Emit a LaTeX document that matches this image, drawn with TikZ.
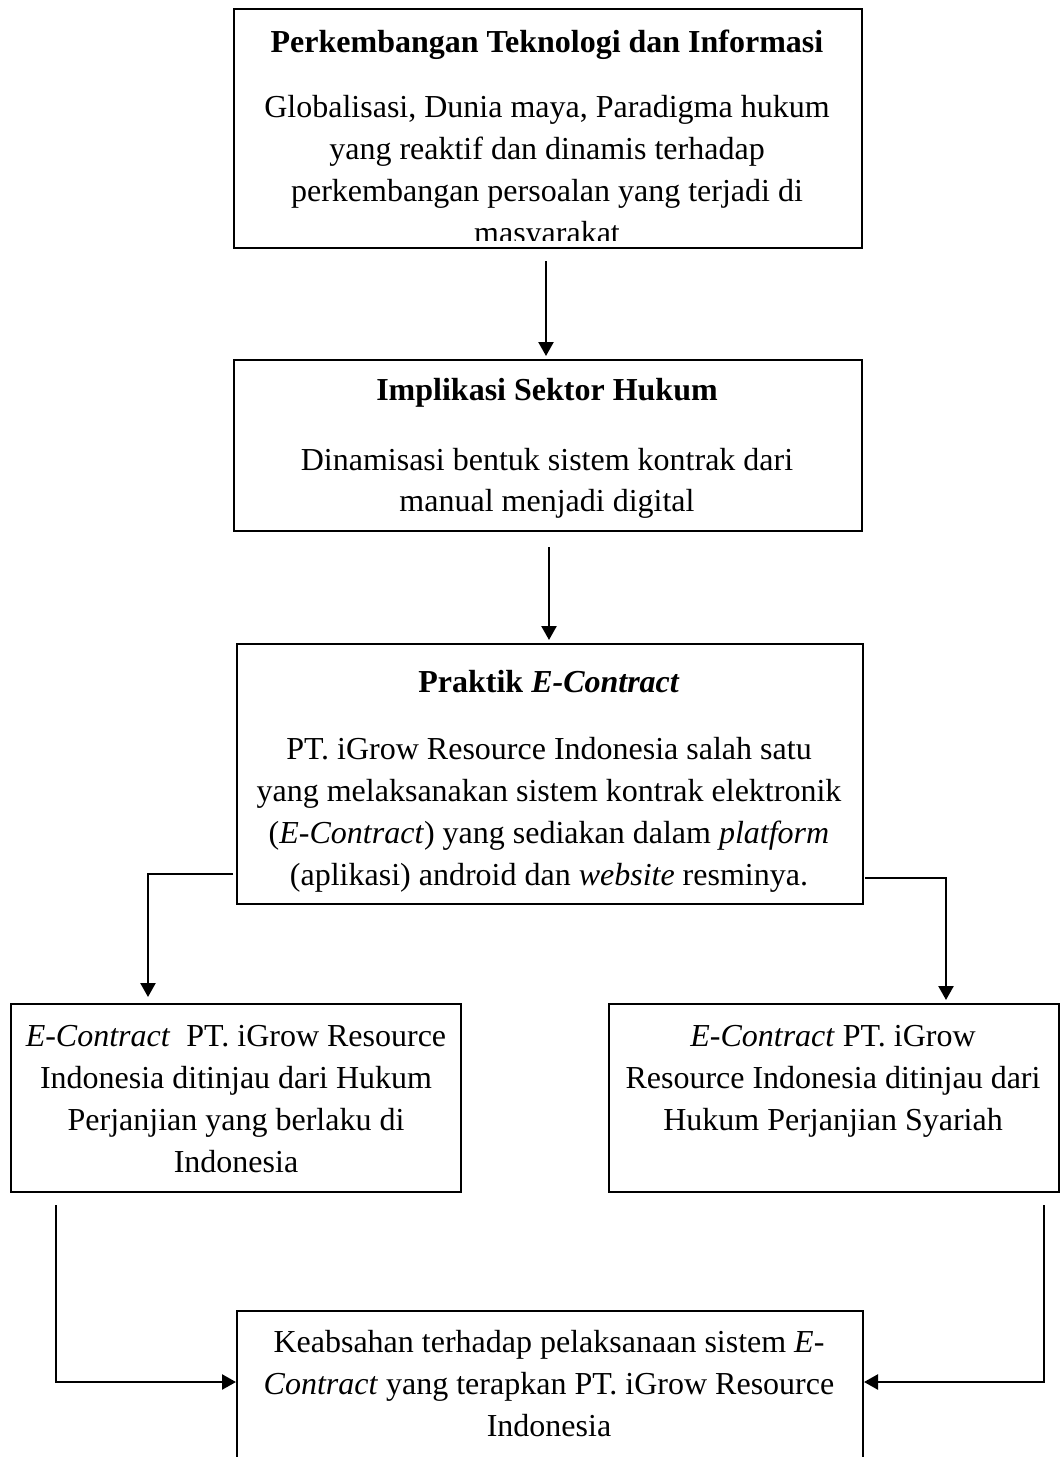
\documentclass[tikz,border=0pt]{standalone}
\usepackage{fontspec}
\setmainfont{Liberation Serif}
\usetikzlibrary{arrows.meta}
\tikzset{
  boxnode/.style={draw, line width=1pt, inner sep=0pt, anchor=north west, fill=none},
  txt/.style={inner sep=0pt, anchor=base, font=\fontsize{16}{21}\selectfont},
  ttl/.style={txt, font=\fontsize{16}{21}\selectfont\bfseries},
  arr/.style={line width=1.2pt, -{Triangle[width=7.5pt,length=7pt]}}
}
\begin{document}
\begin{tikzpicture}[x=0.5pt,y=-0.5pt]
\clip (0,0) rectangle (1060,1457);
\fill[white] (0,0) rectangle (1060,1457);
% boxes
\node[boxnode, minimum width=314pt, minimum height=119.5pt] (b1) at (233,8) {};
\node[boxnode, minimum width=314pt, minimum height=85.5pt] (b2) at (233,359) {};
\node[boxnode, minimum width=313pt, minimum height=130pt] (b3) at (236,643) {};
\node[boxnode, minimum width=225pt, minimum height=94pt] (b4) at (10,1003) {};
\node[boxnode, minimum width=225pt, minimum height=94pt] (b5) at (608,1003) {};
\node[boxnode, minimum width=313pt, minimum height=200pt] (b6) at (236,1310) {};
% box 1 text
\node[ttl] (t1) at (547,52) {Perkembangan Teknologi dan Informasi};
\begin{scope}
\clip (b1.north west) rectangle ([yshift=4.5pt]b1.south east);
\node[txt] (t1a) at (547,117) {Globalisasi, Dunia maya, Paradigma hukum};
\node[txt] (t1b) at (547,159) {yang reaktif dan dinamis terhadap};
\node[txt] (t1c) at (547,201) {perkembangan persoalan yang terjadi di};
\node[txt] (t1d) at (547,243) {masyarakat};
\end{scope}
% box 2 text
\node[ttl] (t2) at (547,400) {Implikasi Sektor Hukum};
\node[txt] (t2a) at (547,470) {Dinamisasi bentuk sistem kontrak dari};
\node[txt] (t2b) at (547,511) {manual menjadi digital};
% box 3 text
\node[ttl] (t3) at (549,692) {Praktik \textit{E-Contract}};
\node[txt] (t3a) at (549,759) {PT. iGrow Resource Indonesia salah satu};
\node[txt] (t3b) at (549,801) {yang melaksanakan sistem kontrak elektronik};
\node[txt] (t3c) at (549,843) {(\textit{E-Contract}) yang sediakan dalam \textit{platform}};
\node[txt] (t3d) at (549,885) {(aplikasi) android dan \textit{website} resminya.};
% box 4 text
\node[txt] (t4a) at (236,1046) {\textit{E-Contract}\ \ PT. iGrow Resource};
\node[txt] (t4b) at (236,1088) {Indonesia ditinjau dari Hukum};
\node[txt] (t4c) at (236,1130) {Perjanjian yang berlaku di};
\node[txt] (t4d) at (236,1172) {Indonesia};
% box 5 text
\node[txt] (t5a) at (833,1046) {\textit{E-Contract} PT. iGrow};
\node[txt] (t5b) at (833,1088) {Resource Indonesia ditinjau dari};
\node[txt] (t5c) at (833,1130) {Hukum Perjanjian Syariah};
% box 6 text
\node[txt] (t6a) at (549,1352) {Keabsahan terhadap pelaksanaan sistem \textit{E}-};
\node[txt] (t6b) at (549,1394) {\textit{Contract} yang terapkan PT. iGrow Resource};
\node[txt] (t6c) at (549,1436) {Indonesia};
% connectors
\draw[arr] ([xshift=-1pt,yshift=-6pt]b1.south) -- ([xshift=-1pt,yshift=1.5pt]b2.north);
\draw[arr] ([xshift=0.5pt,yshift=-7.5pt]b2.south) -- ([xshift=-0.5pt,yshift=1.5pt]b3.north);
\draw[arr] ([xshift=-1.5pt,yshift=-50pt]b3.west) -| ([xshift=69pt,yshift=3pt]b4.north west);
\draw[arr] ([xshift=0.5pt,yshift=-52pt]b3.east) -| ([xshift=169pt,yshift=1.5pt]b5.north west);
\draw[arr] ([xshift=23pt,yshift=-6pt]b4.south west) |- ([yshift=-36pt]b6.north west);
\draw[arr] ([xshift=-8pt,yshift=-6pt]b5.south east) |- ([yshift=-36pt]b6.north east);
\end{tikzpicture}
\end{document}
